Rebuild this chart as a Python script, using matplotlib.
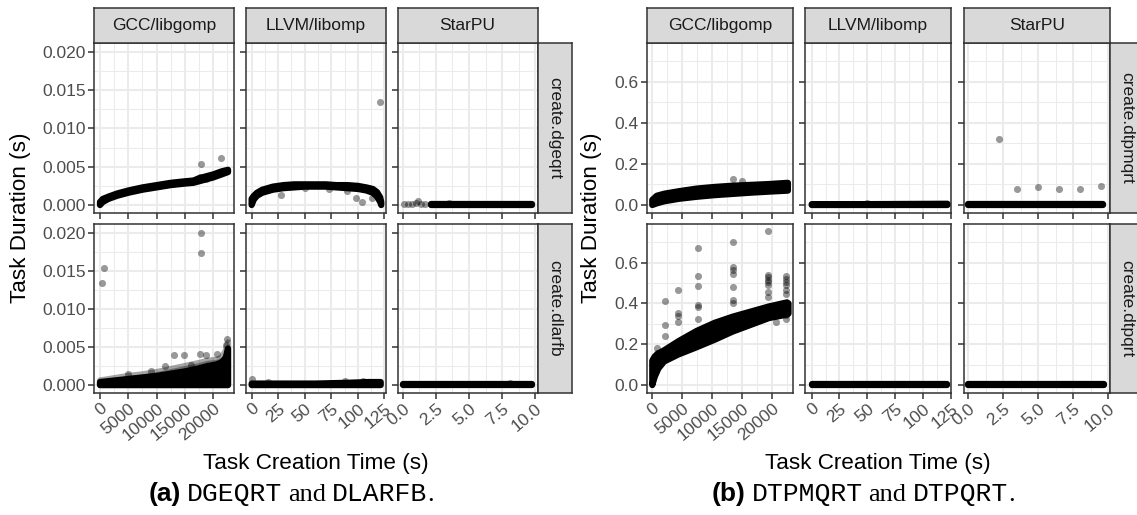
import matplotlib
matplotlib.use("Agg")
import matplotlib.pyplot as plt

plt.rcParams['font.family'] = ['Liberation Sans', 'DejaVu Sans']

# ---- facet labels / axes ----
runtimes = ['GCC/libgomp', 'LLVM/libomp', 'StarPU']
rows_a = ['create.dgeqrt', 'create.dlarfb']
rows_b = ['create.dtpmqrt', 'create.dtpqrt']

gcc_ticks = [0, 5000, 10000, 15000, 20000]
gcc_minor = [2500, 7500, 12500, 17500, 22500]
llvm_ticks = [0, 25, 50, 75, 100, 125]
llvm_minor = [12.5, 37.5, 62.5, 87.5, 112.5]
starpu_ticks = [0.0, 2.5, 5.0, 7.5, 10.0]
starpu_minor = [1.25, 3.75, 6.25, 8.75]
gcc_labels = ['0', '5000', '10000', '15000', '20000']
llvm_labels = ['0', '25', '50', '75', '100', '125']
starpu_labels = ['0.0', '2.5', '5.0', '7.5', '10.0']

ya_ticks = [0.000, 0.005, 0.010, 0.015, 0.020]
ya_minor = [0.0025, 0.0075, 0.0125, 0.0175]
ya_labels = ['0.000', '0.005', '0.010', '0.015', '0.020']
yb_ticks = [0.0, 0.2, 0.4, 0.6]
yb_minor = [0.1, 0.3, 0.5, 0.7]
yb_labels = ['0.0', '0.2', '0.4', '0.6']

# ---- (a) create.dgeqrt ----
gcc_dgeqrt_x = [0, 500, 1500, 3000, 5000, 7500, 10000, 12500, 15000, 16500, 17500, 18500, 20000, 21500, 22600]
gcc_dgeqrt_lo = [0.0000, 0.0004, 0.0008, 0.0012, 0.0016, 0.0020, 0.0023, 0.0026, 0.0028, 0.0029, 0.0031, 0.0033, 0.0036, 0.0040, 0.0043]
gcc_dgeqrt_hi = [0.0004, 0.0008, 0.0011, 0.0015, 0.0019, 0.0023, 0.0026, 0.0029, 0.0031, 0.0032, 0.0035, 0.0037, 0.0040, 0.0044, 0.0046]
gcc_dgeqrt_px = [17800, 21300, 17600, 18700]
gcc_dgeqrt_py = [0.0053, 0.0061, 0.0036, 0.0034]

llvm_dgeqrt_x = [0, 2, 5, 10, 20, 30, 40, 50, 60, 70, 80, 90, 100, 108, 114, 118, 121, 122]
llvm_dgeqrt_lo = [0.0000, 0.0007, 0.0012, 0.0016, 0.0020, 0.0022, 0.0023, 0.0024, 0.0024, 0.0024, 0.0023, 0.0022, 0.0021, 0.0019, 0.0016, 0.0011, 0.0004, 0.0000]
llvm_dgeqrt_hi = [0.0008, 0.0012, 0.0016, 0.0020, 0.0024, 0.0026, 0.0027, 0.0027, 0.0027, 0.0027, 0.0026, 0.0026, 0.0025, 0.0023, 0.0021, 0.0017, 0.0010, 0.0004]
llvm_dgeqrt_px = [0.3, 28, 50, 73, 90, 98, 98, 104, 113, 120.4]
llvm_dgeqrt_py = [0.0009, 0.0013, 0.0022, 0.0021, 0.0018, 0.0022, 0.0009, 0.0004, 0.0009, 0.0135]

starpu_dgeqrt_x = [2.1, 4.0, 6.0, 8.0, 9.8]
starpu_dgeqrt_lo = [0.0000, 0.0000, 0.0000, 0.0000, 0.0000]
starpu_dgeqrt_hi = [0.0001, 0.0001, 0.0001, 0.0001, 0.0001]
starpu_dgeqrt_px = [0.1, 0.4, 0.7, 1.0, 1.15, 1.4, 1.7, 3.5, 5.0]
starpu_dgeqrt_py = [0.0001, 0.0001, 0.0002, 0.0003, 0.0005, 0.0002, 0.0001, 0.0003, 0.0002]

# ---- (a) create.dlarfb ----
gcc_dlarfb_x = [0, 2500, 5000, 7500, 10000, 12500, 15000, 17500, 19000, 20500, 21500, 22200, 22600]
gcc_dlarfb_lo = [0.0000, 0.0000, 0.0000, 0.0000, 0.0000, 0.0000, 0.0000, 0.0000, 0.0000, 0.0000, 0.0000, 0.0000, 0.0000]
gcc_dlarfb_hi = [0.0004, 0.0006, 0.0008, 0.0010, 0.0012, 0.0015, 0.0018, 0.0022, 0.0025, 0.0027, 0.0030, 0.0036, 0.0048]
gcc_dlarfb_halo = [0.0006, 0.0009, 0.0012, 0.0014, 0.0017, 0.0021, 0.0025, 0.0029, 0.0032, 0.0033, 0.0036, 0.0045, 0.0056]
gcc_dlarfb_px = [300, 700, 17800, 17800, 13100, 14900, 17700, 18700, 20600, 11500, 5000, 22500, 22300, 9000, 16000]
gcc_dlarfb_py = [0.0134, 0.0154, 0.0199, 0.0173, 0.0039, 0.0039, 0.0041, 0.0040, 0.0041, 0.0025, 0.0015, 0.0060, 0.0052, 0.0018, 0.0027]

llvm_dlarfb_x = [0, 30, 60, 90, 110, 121.5]
llvm_dlarfb_lo = [0.0000, 0.0000, 0.0000, 0.0000, 0.0000, 0.0000]
llvm_dlarfb_hi = [0.0002, 0.0002, 0.0002, 0.0003, 0.0004, 0.0004]
llvm_dlarfb_px = [0.5, 15, 88, 105]
llvm_dlarfb_py = [0.0008, 0.0004, 0.0006, 0.0006]

starpu_dlarfb_x = [0.0, 2.5, 5.0, 7.5, 9.8]
starpu_dlarfb_lo = [0.0000, 0.0000, 0.0000, 0.0000, 0.0000]
starpu_dlarfb_hi = [0.0001, 0.0001, 0.0001, 0.0001, 0.0001]
starpu_dlarfb_px = [8.1]
starpu_dlarfb_py = [0.0003]

# ---- (b) create.dtpmqrt ----
gcc_dtpmqrt_x = [0, 750, 2000, 4400, 7400, 10400, 13400, 16400, 19400, 22600]
gcc_dtpmqrt_lo = [0.000, 0.008, 0.018, 0.030, 0.040, 0.048, 0.054, 0.060, 0.065, 0.070]
gcc_dtpmqrt_hi = [0.025, 0.045, 0.055, 0.067, 0.080, 0.088, 0.094, 0.098, 0.102, 0.108]
gcc_dtpmqrt_px = [13400, 14900]
gcc_dtpmqrt_py = [0.128, 0.117]

llvm_dtpmqrt_x = [0, 40, 80, 122]
llvm_dtpmqrt_lo = [0.000, 0.000, 0.000, 0.000]
llvm_dtpmqrt_hi = [0.004, 0.004, 0.005, 0.006]
llvm_dtpmqrt_px = [50]
llvm_dtpmqrt_py = [0.008]

starpu_dtpmqrt_x = [0.0, 3.0, 6.0, 9.6]
starpu_dtpmqrt_lo = [0.000, 0.000, 0.000, 0.000]
starpu_dtpmqrt_hi = [0.003, 0.003, 0.003, 0.003]
starpu_dtpmqrt_px = [2.2, 3.5, 5.0, 6.5, 8.0, 9.5]
starpu_dtpmqrt_py = [0.320, 0.079, 0.088, 0.079, 0.079, 0.092]

# ---- (b) create.dtpqrt ----
gcc_dtpqrt_x = [0, 400, 1000, 1950, 4370, 7380, 10400, 13400, 16420, 19430, 22450, 22700]
gcc_dtpqrt_lo = [0.000, 0.040, 0.080, 0.115, 0.150, 0.185, 0.222, 0.262, 0.295, 0.328, 0.345, 0.350]
gcc_dtpqrt_hi = [0.120, 0.140, 0.155, 0.170, 0.215, 0.265, 0.305, 0.335, 0.360, 0.385, 0.405, 0.400]
gcc_dtpqrt_px = [750, 750, 2080, 2080, 2080, 4250, 4250, 4250, 4250,
                 7680, 7680, 7680, 7680, 7680, 7680,
                 13400, 13400, 13400, 13400, 13400, 13400, 13400,
                 19320, 19320, 19320, 19320, 19320, 19320, 19320, 19320, 20600,
                 22330, 22330, 22330, 22330, 22330, 22330, 22330, 22330]
gcc_dtpqrt_py = [0.180, 0.155, 0.410, 0.293, 0.240, 0.465, 0.355, 0.340, 0.310,
                 0.673, 0.535, 0.486, 0.390, 0.383, 0.326,
                 0.700, 0.579, 0.562, 0.546, 0.478, 0.415, 0.404,
                 0.754, 0.541, 0.530, 0.513, 0.505, 0.489, 0.456, 0.432, 0.310,
                 0.535, 0.520, 0.505, 0.490, 0.465, 0.448, 0.342, 0.326]

llvm_dtpqrt_x = [0, 60, 122]
llvm_dtpqrt_lo = [0.000, 0.000, 0.000]
llvm_dtpqrt_hi = [0.005, 0.005, 0.005]
llvm_dtpqrt_px = []
llvm_dtpqrt_py = []

starpu_dtpqrt_x = [0.0, 5.0, 9.7]
starpu_dtpqrt_lo = [0.000, 0.000, 0.000]
starpu_dtpqrt_hi = [0.003, 0.003, 0.003]
starpu_dtpqrt_px = []
starpu_dtpqrt_py = []

W, H = 1137, 515
fig = plt.figure(figsize=(W / 100, H / 100), dpi=100)


def box(x0, x1, y0, y1):
    return [x0 / W, 1 - y1 / H, (x1 - x0) / W, (y1 - y0) / H]


cols_a = [(94.3, 234.3), (245.7, 385.7), (397.5, 537.7)]
cols_b = [(646.7, 793.0), (805.0, 951.3), (963.7, 1109.7)]
rows_px = [(43.3, 212.7), (224.3, 392.7)]
strip_top = (8.3, 43.3)

xlims = [(-1006, 23706), (-5.6, 126.2), (-0.41, 10.2)]
xlims_b = [(-933, 23450), (-6.0, 125.5), (-0.33, 10.1)]
xticks = [(gcc_ticks, gcc_minor, gcc_labels),
          (llvm_ticks, llvm_minor, llvm_labels),
          (starpu_ticks, starpu_minor, starpu_labels)]

panels_a = [
    [(gcc_dgeqrt_x, gcc_dgeqrt_lo, gcc_dgeqrt_hi, None, gcc_dgeqrt_px, gcc_dgeqrt_py),
     (llvm_dgeqrt_x, llvm_dgeqrt_lo, llvm_dgeqrt_hi, None, llvm_dgeqrt_px, llvm_dgeqrt_py),
     (starpu_dgeqrt_x, starpu_dgeqrt_lo, starpu_dgeqrt_hi, None, starpu_dgeqrt_px, starpu_dgeqrt_py)],
    [(gcc_dlarfb_x, gcc_dlarfb_lo, gcc_dlarfb_hi, gcc_dlarfb_halo, gcc_dlarfb_px, gcc_dlarfb_py),
     (llvm_dlarfb_x, llvm_dlarfb_lo, llvm_dlarfb_hi, None, llvm_dlarfb_px, llvm_dlarfb_py),
     (starpu_dlarfb_x, starpu_dlarfb_lo, starpu_dlarfb_hi, None, starpu_dlarfb_px, starpu_dlarfb_py)],
]
panels_b = [
    [(gcc_dtpmqrt_x, gcc_dtpmqrt_lo, gcc_dtpmqrt_hi, None, gcc_dtpmqrt_px, gcc_dtpmqrt_py),
     (llvm_dtpmqrt_x, llvm_dtpmqrt_lo, llvm_dtpmqrt_hi, None, llvm_dtpmqrt_px, llvm_dtpmqrt_py),
     (starpu_dtpmqrt_x, starpu_dtpmqrt_lo, starpu_dtpmqrt_hi, None, starpu_dtpmqrt_px, starpu_dtpmqrt_py)],
    [(gcc_dtpqrt_x, gcc_dtpqrt_lo, gcc_dtpqrt_hi, None, gcc_dtpqrt_px, gcc_dtpqrt_py),
     (llvm_dtpqrt_x, llvm_dtpqrt_lo, llvm_dtpqrt_hi, None, llvm_dtpqrt_px, llvm_dtpqrt_py),
     (starpu_dtpqrt_x, starpu_dtpqrt_lo, starpu_dtpqrt_hi, None, starpu_dtpqrt_px, starpu_dtpqrt_py)],
]

BORDER = '#333333'
GRID = '#EBEBEB'
TXT = '#4D4D4D'
FS = 12.5


def style_box(sx):
    sx.set_facecolor('#D9D9D9')
    sx.set_xticks([])
    sx.set_yticks([])
    for s in sx.spines.values():
        s.set_color(BORDER)
        s.set_linewidth(1.1)


def draw_grid(cols, xl, ylim, yt, panels, row_names):
    for r, (y0, y1) in enumerate(rows_px):
        for c, (x0, x1) in enumerate(cols):
            ax = fig.add_axes(box(x0, x1, y0, y1))
            x, lo, hi, halo, px, py = panels[r][c]
            if halo is not None:
                ax.fill(list(x) + list(x)[::-1], list(lo) + list(halo)[::-1],
                        facecolor='black', edgecolor='black', alpha=0.35, lw=4.5,
                        joinstyle='round', zorder=2)
            ax.fill(list(x) + list(x)[::-1], list(lo) + list(hi)[::-1],
                    facecolor='black', edgecolor='black', lw=4.5, joinstyle='round', zorder=3)
            ax.scatter(px, py, s=26, color='black', alpha=0.4, lw=0, zorder=4)
            ax.set_xlim(*xl[c])
            ax.set_ylim(*ylim)
            maj, mnr, labs = xticks[c]
            ax.set_xticks(maj)
            ax.set_xticks(mnr, minor=True)
            ax.set_yticks(yt[0])
            ax.set_yticks(yt[1], minor=True)
            ax.grid(which='major', color=GRID, lw=1.5)
            ax.grid(which='minor', color=GRID, lw=0.75)
            ax.set_axisbelow(True)
            for s in ax.spines.values():
                s.set_color(BORDER)
                s.set_linewidth(1.1)
            ax.tick_params(which='major', length=4, width=1.1, color=BORDER,
                           labelcolor=TXT, labelsize=FS, pad=2)
            ax.tick_params(which='minor', length=0)
            if c == 0:
                ax.set_yticklabels(yt[2])
            else:
                ax.set_yticklabels([])
            if r == len(rows_px) - 1:
                ax.set_xticklabels(labs, rotation=40, ha='right', va='top',
                                   rotation_mode='anchor')
            else:
                ax.set_xticklabels([])
            # right strip
            if c == 2:
                sx = fig.add_axes(box(x1, x1 + 34.3, y0, y1))
                style_box(sx)
                sx.text(0.5, 0.5, row_names[r], rotation=270, ha='center', va='center',
                        fontsize=FS, color='#1A1A1A', transform=sx.transAxes)
    for c, (x0, x1) in enumerate(cols):
        sx = fig.add_axes(box(x0, x1, strip_top[0], strip_top[1]))
        style_box(sx)
        sx.text(0.5, 0.5, runtimes[c], ha='center', va='center', fontsize=FS,
                color='#1A1A1A', transform=sx.transAxes)


draw_grid(cols_a, xlims, (-0.0010, 0.0211), (ya_ticks, ya_minor, ya_labels), panels_a, rows_a)
draw_grid(cols_b, xlims_b, (-0.0375, 0.7875), (yb_ticks, yb_minor, yb_labels), panels_b, rows_b)

# axis titles
fig.text(316 / W, 1 - 463 / H, 'Task Creation Time (s)', ha='center', va='center', fontsize=16.2)
fig.text(878 / W, 1 - 463 / H, 'Task Creation Time (s)', ha='center', va='center', fontsize=16.2)
fig.text(21 / W, 1 - 218 / H, 'Task Duration (s)', rotation=90, ha='center', va='center', fontsize=16.2)
fig.text(592 / W, 1 - 218 / H, 'Task Duration (s)', rotation=90, ha='center', va='center', fontsize=16.2)

# captions built from pieces in mixed fonts
renderer = fig.canvas.get_renderer()


def caption(cx, base_y, parts, gap=6):
    texts = []
    for s, fam, wt in parts:
        t = fig.text(0, 1 - base_y / H, s, family=[fam, 'DejaVu Sans'], weight=wt,
                     fontsize=19, va='baseline', ha='left')
        texts.append(t)
    widths = [t.get_window_extent(renderer).width for t in texts]
    gaps = [gap if i < len(parts) - 2 else 0 for i in range(len(parts) - 1)]
    total = sum(widths) + sum(gaps)
    x = cx - total / 2
    for i, t in enumerate(texts):
        t.set_x(x / W)
        x += widths[i] + (gaps[i] if i < len(gaps) else 0)


caption(291, 501, [('(a)', 'Liberation Sans', 'bold'), ('DGEQRT', 'Liberation Mono', 'normal'),
                   ('and', 'Liberation Serif', 'normal'), ('DLARFB', 'Liberation Mono', 'normal'),
                   ('.', 'Liberation Serif', 'normal')])
caption(863, 501, [('(b)', 'Liberation Sans', 'bold'), ('DTPMQRT', 'Liberation Mono', 'normal'),
                   ('and', 'Liberation Serif', 'normal'), ('DTPQRT', 'Liberation Mono', 'normal'),
                   ('.', 'Liberation Serif', 'normal')])

fig.savefig('out.png', dpi=100)
